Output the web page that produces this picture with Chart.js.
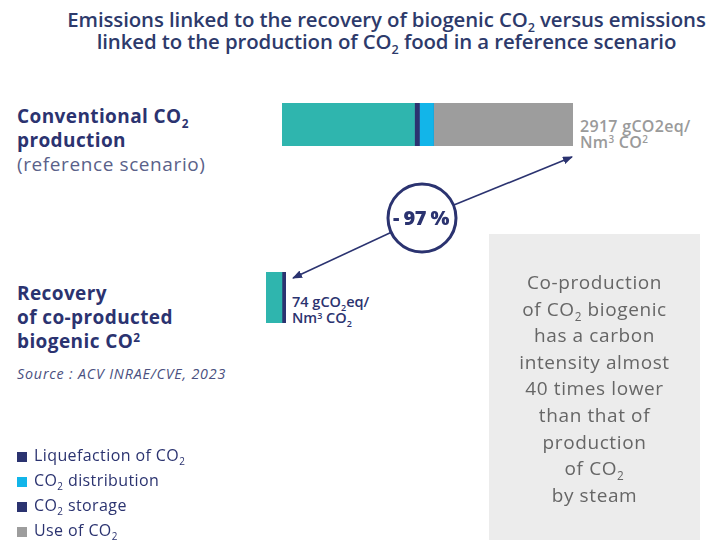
<!DOCTYPE html>
<html>
<head>
<meta charset="utf-8">
<script src="https://cdn.jsdelivr.net/npm/chart.js@4.4.0/dist/chart.umd.min.js"></script>
<style>
  html, body { margin: 0; padding: 0; background: #fff; }
  #page { position: relative; width: 719px; height: 540px; overflow: hidden; font-family: "Open Sans", sans-serif; color: #2b3370; }
  .abs { position: absolute; white-space: nowrap; }
  sub { font-size: 0.62em; vertical-align: -0.4em; line-height: 0; }
  sup { font-size: 0.62em; vertical-align: 0.5em; line-height: 0; }
  #title { left: 27px; width: 719px; top: 8px; text-align: center; font-size: 20.4px; font-weight: 600; line-height: 22px; color: #2d3a6b; letter-spacing: -0.1px; }
  .rowLabel { left: 17px; font-size: 19px; font-weight: 700; line-height: 24px; color: #2b3370; letter-spacing: 0.4px; }
  .rowSub { font-weight: 400; color: #5a6189; letter-spacing: 0.6px; }
  #source { left: 17px; top: 364px; font-size: 14.3px; font-style: italic; color: #4a5080; letter-spacing: 0.8px; }
  .valLabel { font-weight: 600; line-height: 16px; }
  #box { left: 489px; top: 234px; width: 211px; height: 310px; background: #ececec; }
  #boxText { left: 489px; width: 211px; top: 269px; text-align: center; font-size: 19px; line-height: 26.6px; color: #666; font-weight: 500; letter-spacing: 0.6px; }
  #legend { left: 17px; top: 443px; font-size: 16px; line-height: 25px; color: #2b3370; letter-spacing: 0.4px; }
  .sw { display: inline-block; width: 10px; height: 10px; margin-right: 7px; vertical-align: -1px; }
  canvas { position: absolute; }
</style>
</head>
<body>
<div id="page">
  <div id="title" class="abs">Emissions linked to the recovery of biogenic CO<sub>2</sub> versus emissions<br>linked to the production of CO<sub>2</sub> food in a reference scenario</div>

  <div class="abs rowLabel" style="top:104px">Conventional CO<sub>2</sub><br>production<br><span class="rowSub">(reference scenario)</span></div>
  <div class="abs rowLabel" style="top:281px">Recovery<br>of co-producted<br>biogenic CO<sup>2</sup></div>
  <div id="source" class="abs">Source : ACV INRAE/CVE, 2023</div>

  <canvas id="convChart" width="291" height="43" style="left:282px;top:103px;width:291px;height:43px"></canvas>
  <canvas id="recChart" width="20" height="51" style="left:266px;top:272px;width:20px;height:51px"></canvas>

  <div id="convValue" class="abs valLabel" style="left:580px;top:118px;font-size:16px;color:#9a9a9a;letter-spacing:0.3px"></div>
  <div id="recValue" class="abs valLabel" style="left:292px;top:294px;font-size:14.5px;color:#2b3370"></div>

  <svg class="abs" width="719" height="540" style="left:0;top:0">
    <defs>
      <marker id="head" markerWidth="10" markerHeight="8" refX="9" refY="4" orient="auto" markerUnits="userSpaceOnUse">
        <path d="M0,0 L10,4 L0,8 z" fill="#2b3370"></path>
      </marker>
    </defs>
    <line x1="422" y1="218" x2="572" y2="157" stroke="#2b3370" stroke-width="1.6" marker-end="url(#head)"></line>
    <line x1="422" y1="218" x2="293" y2="278" stroke="#2b3370" stroke-width="1.6" marker-end="url(#head)"></line>
    <circle cx="422" cy="218" r="34" fill="#fff" stroke="#2b3370" stroke-width="3"></circle>
    <text x="421" y="225" text-anchor="middle" font-family="Open Sans" font-weight="800" font-size="20" letter-spacing="-0.5" fill="#2b3370">- 97 %</text>
  </svg>

  <div id="box" class="abs"></div>
  <div id="boxText" class="abs">Co-production<br>of CO<sub>2</sub> biogenic<br>has a carbon<br>intensity almost<br>40 times lower<br>than that of<br>production<br>of CO<sub>2</sub><br>by steam</div>

  <div id="legend" class="abs"></div>
</div>

<script>
// ── Datos ──────────────────────────────────────────────
const segmentLabels = ['Production', 'Liquefaction of CO₂', 'CO₂ distribution', 'CO₂ storage', 'Use of CO₂'];
const segmentColors = ['#2fb5ae', '#2b3370', '#12b5e9', '#2b3370', '#9d9d9d'];

// gCO2eq / Nm3 CO2
const conventionalValues = [1328, 50, 141, 0, 1398];   // total 2917
const recoveryValues     = [59, 15, 0, 0, 0];          // total 74

const legendItems = [1, 2, 3, 4];   // índices de segmentos visibles en la leyenda

const _sum = (arr) => arr.reduce((a, b) => a + b, 0);

// ── Gráficas ───────────────────────────────────────────
const _barChart = (canvasId, values) => {
    const ctx = document.getElementById(canvasId).getContext('2d');
    return new Chart(ctx, {
        type: 'bar',
        data: {
            labels: [''],
            datasets: segmentLabels.map((label, i) => ({
                label,
                data: [values[i]],
                backgroundColor: segmentColors[i],
                borderWidth: 0,
                barPercentage: 1,
                categoryPercentage: 1
            }))
        },
        options: {
            indexAxis: 'y',
            responsive: false,
            animation: false,
            layout: { padding: 0 },
            plugins: { legend: { display: false }, tooltip: { enabled: false } },
            scales: {
                x: { stacked: true, display: false, min: 0, max: _sum(values) },
                y: { stacked: true, display: false }
            }
        }
    });
};

_barChart('convChart', conventionalValues);
_barChart('recChart', recoveryValues);

// ── Etiquetas de valor ─────────────────────────────────
document.getElementById('convValue').innerHTML =
    `${_sum(conventionalValues)} gCO2eq/<br>Nm<sup>3</sup> CO<sup>2</sup>`;
document.getElementById('recValue').innerHTML =
    `${_sum(recoveryValues)} gCO<sub>2</sub>eq/<br>Nm<sup>3</sup> CO<sub>2</sub>`;

// ── Leyenda ────────────────────────────────────────────
const _legendHtml = (label) => label.replace('CO₂', 'CO<sub>2</sub>');
document.getElementById('legend').innerHTML = legendItems.map(i =>
    `<div><span class="sw" style="background:${segmentColors[i]}"></span>${_legendHtml(segmentLabels[i])}</div>`
).join('');
</script>
</body>
</html>
